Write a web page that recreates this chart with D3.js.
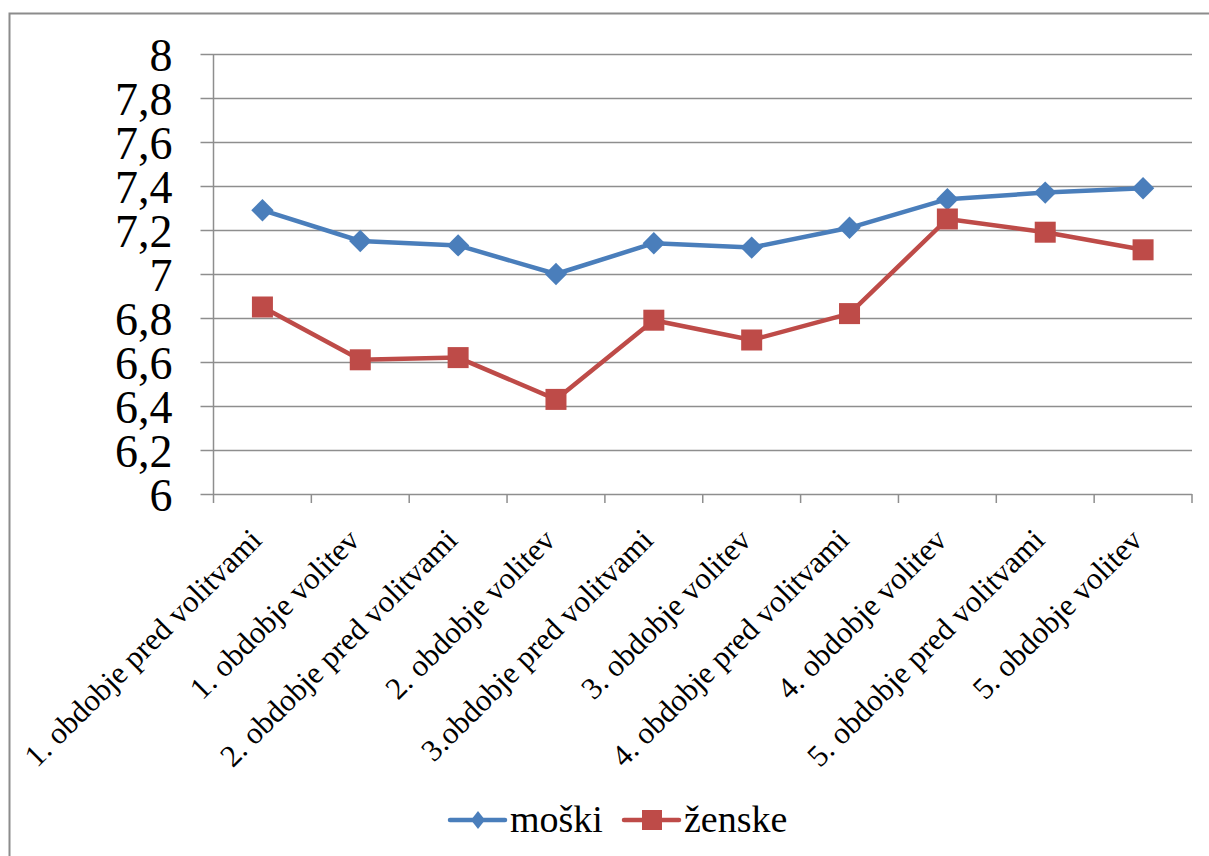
<!DOCTYPE html>
<html>
<head>
<meta charset="utf-8">
<script src="https://cdn.jsdelivr.net/npm/d3@7"></script>
<style>
  html, body { margin: 0; padding: 0; background: #fff; }
  svg { display: block; }
</style>
</head>
<body>
<svg id="chart" width="1209" height="856" font-family="Liberation Serif"></svg>
<script>
const categories = [
  "1. obdobje pred volitvami",
  "1. obdobje volitev",
  "2. obdobje pred volitvami",
  "2. obdobje volitev",
  "3.obdobje pred volitvami",
  "3. obdobje volitev",
  "4. obdobje pred volitvami",
  "4. obdobje volitev",
  "5. obdobje pred volitvami",
  "5. obdobje volitev"
];
const moski = [7.29, 7.15, 7.13, 7.00, 7.14, 7.12, 7.21, 7.34, 7.37, 7.39];
const zenske = [6.85, 6.61, 6.62, 6.43, 6.79, 6.70, 6.82, 7.25, 7.19, 7.11];
const yTicks = [6, 6.2, 6.4, 6.6, 6.8, 7, 7.2, 7.4, 7.6, 7.8, 8];
const seriesNames = ["moški", "ženske"];
const seriesColors = ["#4A7EBB", "#BE4B48"];

(function () {
const FONT = "Liberation Serif";
const svg = d3.select("#chart");
const catSize = 31, ySize = 46, legSize = 38;

// outer frame
svg.append("rect")
  .attr("x", 9.5).attr("y", 13.5)
  .attr("width", 1220).attr("height", 860)
  .attr("fill", "none").attr("stroke", "#8c8c8c").attr("stroke-width", 2);

const pLeft = 213.5, pRight = 1192, pTop = 54, pBottom = 494;

const x = d3.scaleBand().domain(categories).range([pLeft, pRight]).padding(0);
const y = d3.scaleLinear().domain([6, 8]).range([pBottom, pTop]);

// gridlines
svg.append("g")
  .selectAll("line").data(yTicks.slice(1)).join("line")
  .attr("x1", pLeft).attr("x2", pRight)
  .attr("y1", d => Math.round(y(d)) + 0.5).attr("y2", d => Math.round(y(d)) + 0.5)
  .attr("stroke", "#8e8e8e").attr("stroke-width", 1.5);

// y axis
const yAxis = d3.axisLeft(y).tickValues(yTicks).tickSize(13).tickPadding(28)
  .tickFormat(d => d3.format(".1~f")(d).replace(".", ","));
const gy = svg.append("g").attr("transform", `translate(${pLeft},0)`).call(yAxis)
  .attr("font-family", FONT).attr("font-size", ySize);
gy.select(".domain").attr("stroke", "#8e8e8e").attr("stroke-width", 1.5)
  .attr("d", `M0,${pTop}V${pBottom}`);
gy.selectAll(".tick line").attr("stroke", "#8e8e8e").attr("stroke-width", 1.5);
gy.selectAll(".tick text")
  .attr("font-family", FONT).attr("font-size", ySize)
  .attr("fill", "#000").attr("dy", "0.36em");

// x axis
const boundaries = categories.map(c => x(c)).concat([pRight]);
const gx = svg.append("g").attr("font-family", FONT);
gx.append("line").attr("x1", pLeft).attr("x2", pRight)
  .attr("y1", pBottom + 0.5).attr("y2", pBottom + 0.5)
  .attr("stroke", "#8e8e8e").attr("stroke-width", 1.5);
gx.selectAll("line.tk").data(boundaries).join("line").attr("class", "tk")
  .attr("x1", d => d).attr("x2", d => d)
  .attr("y1", pBottom).attr("y2", pBottom + 9)
  .attr("stroke", "#8e8e8e").attr("stroke-width", 1.5);
gx.selectAll("text").data(categories).join("text")
  .attr("transform", c => `translate(${x(c) + x.bandwidth() / 2 + 1},${pBottom + 48}) rotate(-45)`)
  .attr("text-anchor", "end")
  .attr("fill", "#000")
  .attr("font-family", FONT)
  .attr("font-size", catSize)
  .text(c => c);

// lines & markers
const line = d3.line().x((d, i) => x(categories[i]) + x.bandwidth() / 2).y(d => y(d));
const allSeries = [moski, zenske];
allSeries.forEach((vals, si) => {
  svg.append("path").datum(vals)
    .attr("d", line).attr("fill", "none")
    .attr("stroke", seriesColors[si]).attr("stroke-width", 4.5)
    .attr("stroke-linejoin", "round");
  const g = svg.append("g");
  if (si === 0) {
    g.selectAll("path").data(vals).join("path")
      .attr("d", d3.symbol(d3.symbolDiamond2, 320))
      .attr("transform", (d, i) => `translate(${x(categories[i]) + x.bandwidth() / 2},${y(d)})`)
      .attr("fill", seriesColors[si]);
  } else {
    g.selectAll("rect").data(vals).join("rect")
      .attr("x", (d, i) => x(categories[i]) + x.bandwidth() / 2 - 10.5)
      .attr("y", d => y(d) - 10.5)
      .attr("width", 21).attr("height", 21)
      .attr("fill", seriesColors[si]);
  }
});

// legend
const legendItems = [
  { name: seriesNames[0], color: seriesColors[0], x0: 450, sym: "diamond" },
  { name: seriesNames[1], color: seriesColors[1], x0: 624, sym: "square" }
];
const ly = 820;
legendItems.forEach(it => {
  const g = svg.append("g");
  g.append("line").attr("x1", it.x0).attr("x2", it.x0 + 55)
    .attr("y1", ly).attr("y2", ly)
    .attr("stroke", it.color).attr("stroke-width", 4.5).attr("stroke-linecap", "round");
  const cx = it.x0 + 28;
  if (it.sym === "diamond") {
    g.append("path").attr("d", `M${cx},${ly - 9}L${cx + 7},${ly}L${cx},${ly + 9}L${cx - 7},${ly}Z`)
      .attr("fill", it.color);
  } else {
    g.append("rect").attr("x", cx - 10).attr("y", ly - 10).attr("width", 20).attr("height", 20)
      .attr("fill", it.color);
  }
  g.append("text").attr("x", it.x0 + 60).attr("y", ly + 12)
    .attr("fill", "#000")
    .attr("font-family", FONT)
    .attr("font-size", legSize).text(it.name);
});
})();
</script>
</body>
</html>
